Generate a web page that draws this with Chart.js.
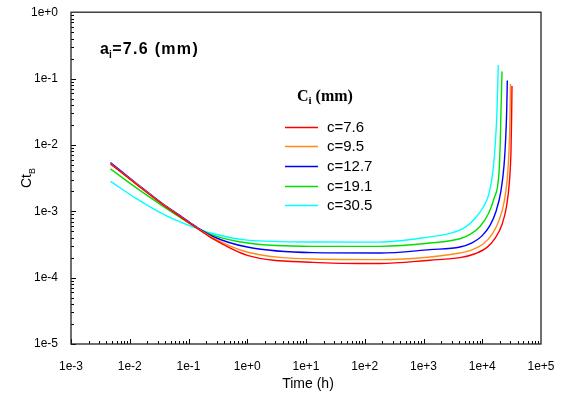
<!DOCTYPE html>
<html>
<head>
<meta charset="utf-8">
<script src="https://cdn.jsdelivr.net/npm/chart.js@4/dist/chart.umd.min.js"></script>
<style>
  html, body { margin: 0; padding: 0; background: #fff; }
  #wrap { width: 564px; height: 400px; }
</style>
</head>
<body>
<div id="wrap"><canvas id="grafico"></canvas></div>
<script>
// tick labels (powers of ten)
const xExponents = [-3, -2, -1, 0, 1, 2, 3, 4, 5];
const yExponents = [-5, -4, -3, -2, -1, 0];

const seriesLabels = ['c=7.6', 'c=9.5', 'c=12.7', 'c=19.1', 'c=30.5'];
const seriesColors = ['#ff0000', '#ff8c1a', '#0000ff', '#00e000', '#00ffff'];

// time (h) and Ct_B
const timeC76 = [0.0047, 0.0126, 0.035, 0.072, 0.13, 0.26, 1, 13, 180, 1290, 4180, 7526, 12050, 16480, 21690, 25870, 29100, 30860, 31600, 32090];
const ctC76   = [5.17e-3, 2.60e-3, 1.30e-3, 8.3e-4, 5.79e-4, 3.85e-4, 2.17e-4, 1.70e-4, 1.63e-4, 1.83e-4, 2.00e-4, 2.29e-4, 2.86e-4, 3.90e-4, 6.33e-4, 1.18e-3, 2.90e-3, 8.18e-3, 2.47e-2, 7.74e-2];

const timeC95 = [0.0047, 0.0126, 0.035, 0.072, 0.13, 0.26, 1, 13, 180, 1290, 4180, 6691, 10710, 14660, 19280, 23460, 26700, 28530, 29670, 30260];
const ctC95   = [5.22e-3, 2.63e-3, 1.31e-3, 8.4e-4, 5.82e-4, 3.98e-4, 2.43e-4, 1.91e-4, 1.87e-4, 2.05e-4, 2.35e-4, 2.62e-4, 3.29e-4, 4.48e-4, 7.27e-4, 1.356e-3, 3.11e-3, 8.18e-3, 2.47e-2, 8.30e-2];

const timeC127 = [0.0047, 0.0126, 0.035, 0.072, 0.13, 0.26, 1, 13, 180, 1290, 4180, 6691, 9902, 13550, 17140, 20850, 23460, 25170, 26080, 26700];
const ctC127   = [5.41e-3, 2.69e-3, 1.33e-3, 8.6e-4, 5.96e-4, 4.17e-4, 2.89e-4, 2.38e-4, 2.35e-4, 2.64e-4, 2.89e-4, 3.34e-4, 4.26e-4, 6.12e-4, 9.93e-4, 2.05e-3, 4.87e-3, 1.374e-2, 3.26e-2, 9.37e-2];

const timeC191 = [0.0047, 0.0126, 0.035, 0.072, 0.13, 0.26, 1, 13, 180, 1290, 4180, 6187, 9157, 12530, 15850, 19280, 20290, 20850, 21690];
const ctC191   = [4.35e-3, 2.29e-3, 1.23e-3, 8.1e-4, 5.82e-4, 4.37e-4, 3.32e-4, 2.96e-4, 2.96e-4, 3.32e-4, 3.86e-4, 4.48e-4, 5.91e-4, 8.95e-4, 1.56e-3, 3.83e-3, 1.157e-2, 3.26e-2, 0.128];

const timeC305 = [0.0047, 0.0126, 0.035, 0.072, 0.13, 0.26, 1, 13, 180, 1290, 2826, 5087, 7526, 10300, 13030, 15240, 16810, 17830, 18760];
const ctC305   = [2.83e-3, 1.58e-3, 9.3e-4, 6.9e-4, 5.62e-4, 4.62e-4, 3.67e-4, 3.44e-4, 3.43e-4, 4.11e-4, 4.64e-4, 5.71e-4, 7.79e-4, 1.14e-3, 1.85e-3, 4.10e-3, 1.157e-2, 3.26e-2, 0.160];

const allTimes = [timeC76, timeC95, timeC127, timeC191, timeC305];
const allCts = [ctC76, ctC95, ctC127, ctC191, ctC305];

function toPoints(ts, cs) {
  return ts.map((t, i) => ({ x: t, y: cs[i] }));
}

function expLabel(value) {
  const e = Math.round(Math.log10(value));
  return '1e' + (e >= 0 ? '+' : '') + e;
}

const fonte = "'Liberation Sans', Arial, sans-serif";
const serifa = "'Liberation Serif', 'Times New Roman', serif";

// frame, inside tick marks, titles, legend and note
const decoracao = {
  id: 'decoracao',
  afterDraw(chart) {
    const ctx = chart.ctx;
    const area = chart.chartArea;
    const xs = chart.scales.x;
    const ys = chart.scales.y;
    ctx.save();

    // tick marks pointing inward
    ctx.strokeStyle = '#000';
    ctx.lineWidth = 1;
    ctx.beginPath();
    for (let d = -3; d <= 4; d++) {
      for (let k = 1; k <= 9; k++) {
        const px = Math.round(xs.getPixelForValue(k * Math.pow(10, d))) + 0.5;
        const len = k === 1 ? 5 : 3;
        ctx.moveTo(px, area.bottom);
        ctx.lineTo(px, area.bottom - len);
      }
    }
    for (let d = -5; d <= -1; d++) {
      for (let k = 1; k <= 9; k++) {
        const py = Math.round(ys.getPixelForValue(k * Math.pow(10, d))) + 0.5;
        const len = k === 1 ? 5 : 3;
        ctx.moveTo(area.left, py);
        ctx.lineTo(area.left + len, py);
      }
    }
    ctx.stroke();

    // frame
    ctx.lineWidth = 1.3;
    ctx.strokeStyle = '#222';
    ctx.strokeRect(area.left, area.top, area.right - area.left, area.bottom - area.top);

    // x title
    ctx.fillStyle = '#000';
    ctx.font = '14px ' + fonte;
    ctx.textAlign = 'center';
    ctx.textBaseline = 'middle';
    ctx.fillText('Time (h)', 308, 384);

    // y title Ct_B rotated
    ctx.save();
    ctx.translate(27, 178);
    ctx.rotate(-Math.PI / 2);
    ctx.textAlign = 'left';
    ctx.textBaseline = 'alphabetic';
    ctx.font = '14px ' + fonte;
    const wCt = ctx.measureText('Ct').width;
    ctx.font = '9px ' + fonte;
    const wB = ctx.measureText('B').width;
    const start = -(wCt + wB) / 2;
    ctx.font = '14px ' + fonte;
    ctx.fillText('Ct', start, 4);
    ctx.font = '9px ' + fonte;
    ctx.fillText('B', start + wCt, 8);
    ctx.restore();

    // note a_i=7.6 (mm)
    ctx.textAlign = 'left';
    ctx.textBaseline = 'alphabetic';
    ctx.font = 'bold 16px ' + fonte;
    ctx.fillText('a', 100, 54);
    const wa = ctx.measureText('a').width;
    ctx.font = 'bold 10px ' + fonte;
    ctx.fillText('i', 100 + wa, 58);
    const wi = ctx.measureText('i').width;
    ctx.font = 'bold 16px ' + fonte;
    ctx.letterSpacing = '1.3px';
    ctx.fillText('=7.6 (mm)', 100 + wa + wi + 0.5, 54);
    ctx.letterSpacing = '0px';

    // legend title C_i (mm)
    ctx.font = 'bold 16px ' + serifa;
    ctx.fillText('C', 297, 101);
    const wC = ctx.measureText('C').width;
    ctx.font = 'bold 11px ' + serifa;
    ctx.fillText('i', 297 + wC, 104);
    const wi2 = ctx.measureText('i').width;
    ctx.font = 'bold 16px ' + serifa;
    ctx.fillText(' (mm)', 297 + wC + wi2, 101);

    // legend rows
    const rowsY = [126.5, 146, 166, 185.5, 205];
    ctx.textBaseline = 'middle';
    ctx.font = '15px ' + fonte;
    seriesLabels.forEach((lab, i) => {
      ctx.strokeStyle = seriesColors[i];
      ctx.lineWidth = 1.4;
      ctx.beginPath();
      ctx.moveTo(285, Math.round(rowsY[i]) + 0.5);
      ctx.lineTo(318, Math.round(rowsY[i]) + 0.5);
      ctx.stroke();
      ctx.fillStyle = '#000';
      ctx.fillText(lab, 327, rowsY[i] + 1);
    });

    ctx.restore();
  }
};

const grafico = new Chart(document.querySelector('#grafico'), {
  type: 'line',
  data: {
    datasets: seriesLabels.map((lab, i) => ({
      label: lab,
      data: toPoints(allTimes[i], allCts[i]),
      borderColor: seriesColors[i],
      borderWidth: 1.4,
      pointRadius: 0,
      fill: false,
      cubicInterpolationMode: 'monotone'
    }))
  },
  options: {
    responsive: true,
    maintainAspectRatio: false,
    animation: false,
    layout: { padding: { left: 0, right: 23, top: 11, bottom: 0 } },
    plugins: {
      legend: { display: false },
      tooltip: { enabled: false }
    },
    scales: {
      x: {
        type: 'logarithmic',
        min: 1e-3,
        max: 1e5,
        grid: { display: false },
        border: { display: false },
        afterBuildTicks: (scale) => {
          scale.ticks = xExponents.map(e => ({ value: Math.pow(10, e) }));
        },
        afterFit: (scale) => { scale.height = 56; },
        ticks: {
          autoSkip: false,
          maxRotation: 0,
          padding: 7,
          color: '#000',
          font: { family: fonte, size: 12 },
          callback: (value) => expLabel(value)
        }
      },
      y: {
        type: 'logarithmic',
        min: 1e-5,
        max: 1,
        grid: { display: false },
        border: { display: false },
        afterBuildTicks: (scale) => {
          scale.ticks = yExponents.map(e => ({ value: Math.pow(10, e) }));
        },
        afterFit: (scale) => { scale.width = 71; },
        ticks: {
          autoSkip: false,
          padding: 5,
          color: '#000',
          font: { family: fonte, size: 12 },
          callback: (value) => expLabel(value)
        }
      }
    }
  },
  plugins: [decoracao]
});
</script>
</body>
</html>
